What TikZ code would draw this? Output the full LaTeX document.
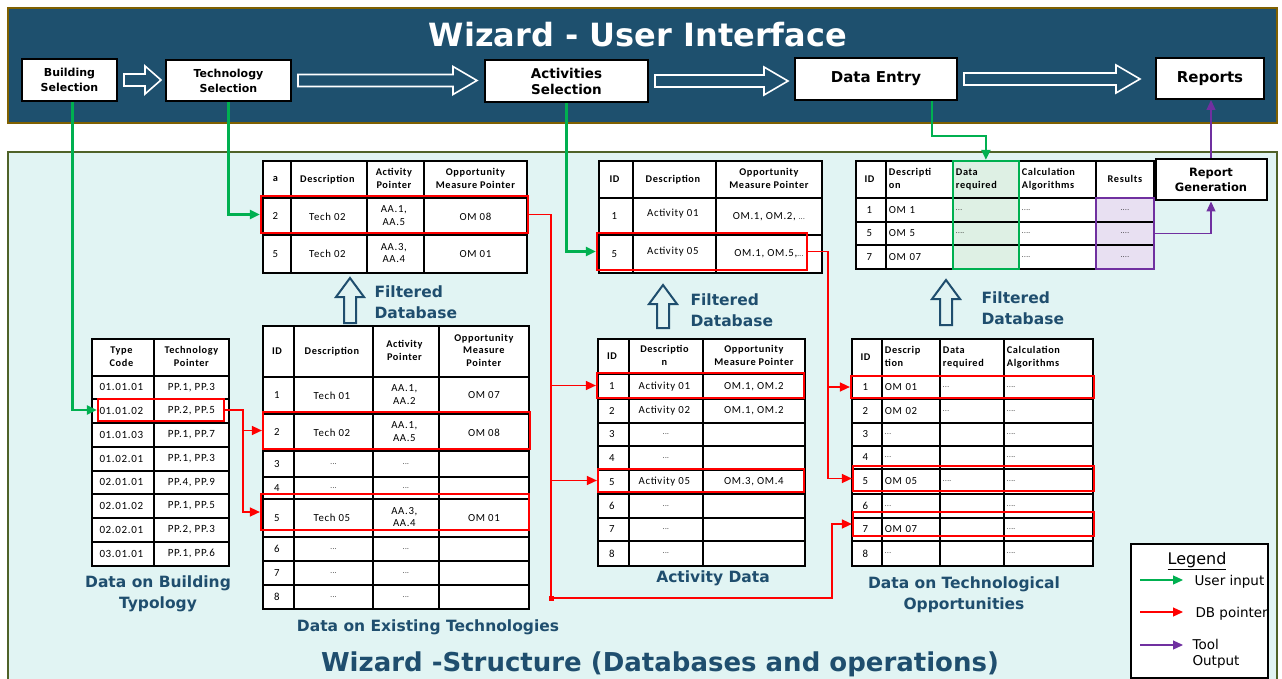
\documentclass[tikz,border=0pt]{standalone}
\usepackage{fontspec}
\setmainfont{Carlito}
\newfontfamily\dv{DejaVu Sans}
\newfontfamily\cl[LetterSpace=6]{Carlito}
\usetikzlibrary{matrix,fit,arrows.meta,calc}
\definecolor{barblue}{RGB}{30,80,110}
\definecolor{bargold}{RGB}{127,96,0}
\definecolor{panel}{RGB}{225,244,243}
\definecolor{panelborder}{RGB}{79,98,40}
\definecolor{lblue}{RGB}{31,78,110}
\definecolor{ugreen}{RGB}{0,176,80}
\definecolor{dbred}{RGB}{255,0,0}
\definecolor{tpurple}{RGB}{112,48,160}
\definecolor{lgreen}{RGB}{222,240,228}
\definecolor{lpurple}{RGB}{232,224,242}
\newcommand{\twoC}[2]{\begin{tabular}{@{}c@{}}#1\\#2\end{tabular}}
\newcommand{\threeC}[3]{\begin{tabular}{@{}c@{}}#1\\#2\\#3\end{tabular}}
\newcommand{\twoL}[2]{\begin{tabular}{@{}l@{}}#1\\#2\end{tabular}}
\newcommand{\sdots}{{\fontsize{7}{8}\selectfont ...}}
\newcommand{\sdotss}{{\fontsize{7}{8}\selectfont ....}}
\newcommand{\hollowarrow}[4]{%
  \draw[harrow] let \p1=(#1.east), \p2=(#2.west) in
   (\x1+6pt,\y1+6pt) -- (\x2-#3pt-#4pt,\y1+6pt) -- (\x2-#3pt-#4pt,\y1+14pt) -- (\x2-#3pt,\y1)
   -- (\x2-#3pt-#4pt,\y1-14pt) -- (\x2-#3pt-#4pt,\y1-6pt) -- (\x1+6pt,\y1-6pt) -- cycle;}
\newcommand{\uparr}[3]{%
  \draw[varrow] (#1-6,#2) -- (#1-6,#3+19) -- (#1-14,#3+19) -- (#1,#3) -- (#1+14,#3+19)
   -- (#1+6,#3+19) -- (#1+6,#2) -- cycle;}
\newcommand{\redrow}[5]{\node[redbox, fit={(#2,#3)(#4,#5)}] (#1) {};}
\tikzset{
  uibox/.style={draw=black, line width=2pt, fill=white, align=center, inner sep=2pt},
  tbl/.style={matrix of nodes, nodes in empty cells, inner sep=0pt, outer sep=0pt,
     column sep=-1.8pt, row sep=-1.8pt, nodes={tcell}},
  tcell/.style={draw=black, line width=1.8pt, fill=white, anchor=center, outer sep=0pt,
     inner sep=1pt, align=center, font=\cl\fontsize{10.8}{12.5}\selectfont},
  hdr/.style={nodes={font=\cl\bfseries\fontsize{10.3}{12.5}\selectfont}},
  cw/.style={nodes={minimum width=#1}},
  lw/.style={nodes={text width=#1, align=left, inner xsep=3pt}},
  rh/.style={nodes={minimum height=#1}},
  redbox/.style={draw=dbred, line width=2.2pt, inner sep=0pt},
  dbp/.style={draw=dbred, line width=1.5pt, -{Triangle[length=10pt,width=9pt]}},
  uin/.style={draw=ugreen, line width=2.2pt, -{Triangle[length=10pt,width=9pt]}},
  tout/.style={draw=tpurple, line width=1.2pt, -{Triangle[length=10pt,width=9pt]}},
  harrow/.style={draw=white, line width=1.6pt},
  varrow/.style={draw=lblue, line width=2pt},
  lbl/.style={text=lblue, font=\dv\bfseries\fontsize{15.5}{21}\selectfont, align=center},
  leglbl/.style={anchor=west, align=left, font=\dv\fontsize{13.5}{16}\selectfont},
}
\begin{document}
\begin{tikzpicture}[x=1pt,y=-1pt]
\useasboundingbox (0,0) rectangle (1282,679);
\clip (0,0) rectangle (1282,679);
\fill[white] (0,0) rectangle (1282,679);
% top bar
\draw[fill=barblue, draw=bargold, line width=2.5pt] (8,8) rectangle (1277,123);
\node[font=\dv\bfseries\fontsize{32}{36}\selectfont, text=white] (ttl) at (638,35) {Wizard - User Interface};
\node[uibox, minimum width=95pt, minimum height=42pt, font=\dv\bfseries\fontsize{11}{15}\selectfont] (bs) at (69.5,80) {Building\\Selection};
\node[uibox, minimum width=125pt, minimum height=41pt, font=\dv\bfseries\fontsize{11}{15}\selectfont] (ts) at (228.5,80.5) {Technology\\Selection};
\node[uibox, minimum width=163pt, minimum height=42pt, font=\dv\bfseries\fontsize{13.5}{16}\selectfont] (as) at (566.5,81) {Activities\\Selection};
\node[uibox, minimum width=162pt, minimum height=42pt, font=\dv\bfseries\fontsize{15}{18}\selectfont] (de) at (876,79) {Data Entry};
\node[uibox, minimum width=108pt, minimum height=41pt, font=\dv\bfseries\fontsize{15}{18}\selectfont] (rep) at (1210,78.5) {Reports};
\hollowarrow{bs}{ts}{4}{16}
\hollowarrow{ts}{as}{7}{24}
\hollowarrow{as}{de}{6}{24}
\hollowarrow{de}{rep}{15}{24}
% bottom panel
\draw[fill=panel, draw=panelborder, line width=2pt] (8,152) rectangle (1277,690);
\node[uibox, minimum width=111pt, minimum height=41pt, font=\dv\bfseries\fontsize{11.5}{15}\selectfont] (rg) at (1211,180) {Report\\Generation};

% Table A : filtered technologies
\matrix[tbl, anchor=north west,
  column 1/.style={cw=28pt}, column 2/.style={cw=76pt}, column 3/.style={cw=57pt}, column 4/.style={cw=103pt},
  row 1/.style={hdr, rh=37pt}, row 2/.style={rh=37pt}, row 3/.style={rh=38pt}] (A) at (262,160) {
  a & Description & \twoC{Activity}{Pointer} & \twoC{Opportunity}{Measure Pointer}\\
  2 & Tech 02 & \twoC{AA.1,}{AA.5} & OM 08\\
  5 & Tech 02 & \twoC{AA.3,}{AA.4} & OM 01\\
};
% Table B : existing technologies
\matrix[tbl, anchor=north west,
  column 1/.style={cw=31pt}, column 2/.style={cw=79pt}, column 3/.style={cw=66pt}, column 4/.style={cw=90pt},
  row 1/.style={hdr, rh=51pt}, row 2/.style={rh=37pt}, row 3/.style={rh=37pt}, row 4/.style={rh=26pt},
  row 5/.style={rh=22pt}, row 6/.style={rh=38pt}, row 7/.style={rh=24pt}, row 8/.style={rh=24pt},
  row 9/.style={rh=24pt}] (B) at (262,325) {
  ID & Description & \twoC{Activity}{Pointer} & \threeC{Opportunity}{Measure}{Pointer}\\
  1 & Tech 01 & \twoC{AA.1,}{AA.2} & OM 07\\
  2 & Tech 02 & \twoC{AA.1,}{AA.5} & OM 08\\
  3 & \sdots & \sdots & \\
  4 & \sdots & \sdots & \\
  5 & Tech 05 & \twoC{AA.3,}{AA.4} & OM 01\\
  6 & \sdots & \sdots & \\
  7 & \sdots & \sdots & \\
  8 & \sdots & \sdots & \\
};
% Table C : building typology
\matrix[tbl, anchor=north west, nodes={font=\cl\fontsize{11}{13}\selectfont},
  column 1/.style={cw=62pt}, column 2/.style={cw=75pt},
  row 1/.style={hdr, rh=37pt}, row 2/.style={rh=23pt}, row 3/.style={rh=24pt}, row 4/.style={rh=24pt},
  row 5/.style={rh=24pt}, row 6/.style={rh=23pt}, row 7/.style={rh=24pt}, row 8/.style={rh=24pt},
  row 9/.style={rh=24pt}] (C) at (91,338) {
  \twoC{Type}{Code} & \twoC{Technology}{Pointer}\\
  01.01.01 & PP.1, PP.3\\
  01.01.02 & PP.2, PP.5\\
  01.01.03 & PP.1, PP.7\\
  01.02.01 & PP.1, PP.3\\
  02.01.01 & PP.4, PP.9\\
  02.01.02 & PP.1, PP.5\\
  02.02.01 & PP.2, PP.3\\
  03.01.01 & PP.1, PP.6\\
};
% Table D : filtered activities
\matrix[tbl, anchor=north west,
  column 1/.style={cw=34pt}, column 2/.style={cw=83pt}, column 3/.style={cw=106pt},
  row 1/.style={hdr, rh=37pt}, row 2/.style={rh=37pt}, row 3/.style={rh=38pt}] (D) at (598,160) {
  ID & Description & \twoC{Opportunity}{Measure Pointer}\\
  1 & \raisebox{7pt}{Activity 01} & \raisebox{-3pt}{OM.1, OM.2, \sdots}\\
  5 & \raisebox{7pt}{Activity 05} & \raisebox{-3pt}{OM.1, OM.5,\sdots}\\
};
% Table E : activity data
\matrix[tbl, anchor=north west,
  column 1/.style={cw=31pt}, column 2/.style={cw=74pt}, column 3/.style={cw=102pt},
  row 1/.style={hdr, rh=35pt}, row 2/.style={rh=25pt}, row 3/.style={rh=24pt}, row 4/.style={rh=23pt},
  row 5/.style={rh=24pt}, row 6/.style={rh=24pt}, row 7/.style={rh=24pt}, row 8/.style={rh=23pt},
  row 9/.style={rh=25pt}] (E) at (597,338) {
  ID & \twoC{Descriptio}{n} & \twoC{Opportunity}{Measure Pointer}\\
  1 & Activity 01 & OM.1, OM.2\\
  2 & Activity 02 & OM.1, OM.2\\
  3 & \sdots & \\
  4 & \sdots & \\
  5 & Activity 05 & OM.3, OM.4\\
  6 & \sdots & \\
  7 & \sdots & \\
  8 & \sdots & \\
};
% Table F : filtered opportunities
\matrix[tbl, anchor=north west,
  column 1/.style={cw=30pt}, column 2/.style={lw=61pt}, column 3/.style={lw=60pt, nodes={fill=lgreen}},
  column 4/.style={lw=71pt}, column 5/.style={cw=58pt, nodes={fill=lpurple}},
  row 1/.style={hdr, rh=37pt}, row 2/.style={rh=24pt}, row 3/.style={rh=23pt}, row 4/.style={rh=24pt}] (F) at (855,160) {
  ID & \twoL{Descripti}{on} & \twoL{Data}{required} & \twoL{Calculation}{Algorithms} & |[fill=white]| Results\\
  1 & OM 1 & \sdots & \sdotss & \sdotss\\
  5 & OM 5 & \sdotss & \sdotss & \sdotss\\
  7 & OM 07 & & \sdotss & \sdotss\\
};
% Table G : technological opportunities
\matrix[tbl, anchor=north west,
  column 1/.style={cw=30pt}, column 2/.style={lw=52pt}, column 3/.style={lw=58pt}, column 4/.style={lw=83pt},
  row 1/.style={hdr, rh=37pt}, row 2/.style={rh=23pt}, row 3/.style={rh=24pt}, row 4/.style={rh=23pt},
  row 5/.style={rh=23pt}, row 6/.style={rh=25pt}, row 7/.style={rh=24pt}, row 8/.style={rh=23pt},
  row 9/.style={rh=25pt}] (G) at (851,338) {
  ID & \twoL{Descrip}{tion} & \twoL{Data}{required} & \twoL{Calculation}{Algorithms}\\
  1 & OM 01 & \sdots & \sdotss\\
  2 & OM 02 & \sdots & \sdotss\\
  3 & \sdots & & \sdotss\\
  4 & \sdots & & \sdotss\\
  5 & OM 05 & \sdotss & \sdotss\\
  6 & \sdots & & \sdotss\\
  7 & OM 07 & & \sdotss\\
  8 & \sdots & & \sdotss\\
};
% column highlights
\node[draw=ugreen, line width=2.2pt, inner sep=0pt, fit=(F-1-3)(F-4-3)] (dreq) {};
\node[draw=tpurple, line width=2.2pt, inner sep=0pt, fit=(F-2-5)(F-4-5)] (res) {};
% red row boxes
\redrow{rA}{261}{196}{528}{233}
\redrow{rB2}{263}{412}{530}{449}
\redrow{rB5}{261}{494}{529}{530}
\redrow{rC}{98}{399}{224}{421}
\redrow{rD}{597}{233}{807}{270}
\redrow{rE1}{597}{373}{804}{398}
\redrow{rE5}{598}{469}{804}{492}
\redrow{rG1}{851}{376}{1094}{398}
\redrow{rG5}{853}{466}{1094}{491}
\redrow{rG7}{853}{512}{1094}{536}
% filtered database arrows and labels
\uparr{350}{323}{278}
\uparr{663}{328}{285}
\uparr{946}{325}{280}
\node[lbl, anchor=west, align=left] (fd1) at (371,302) {Filtered\\Database};
\node[lbl, anchor=west, align=left] (fd2) at (687,310) {Filtered\\Database};
\node[lbl, anchor=west, align=left] (fd3) at (978,308) {Filtered\\Database};
% table captions
\node[lbl] (capC) at (158,594) {Data on Building\\Typology};
\node[lbl] (capB) at (428,627) {Data on Existing Technologies};
\node[lbl] (capE) at (713,578) {Activity Data};
\node[lbl] (capG) at (964,595) {Data on Technological\\Opportunities};
\node[text=lblue, font=\dv\bfseries\fontsize{26}{30}\selectfont] (btl) at (660,664) {Wizard -Structure (Databases and operations)};
% user input connectors
\draw[uin] ([xshift=3pt]bs.south) |- (rC.west);
\draw[uin] (ts.south) |- (rA.west);
\draw[uin] (as.south) |- (rD.west);
\draw[uin] ([xshift=56pt]de.south) -- ++(0,35) -| (dreq.north);
% DB pointer connectors
\coordinate (c1) at (551,598);
\coordinate (c2) at (832,598);
\coordinate (c3) at (828,0);
\coordinate (c4) at (243,0);
\draw[dbp] (rA.east) -| (c1) -- (c2) |- (rG7.west);
\fill[dbred] (548.5,595.5) rectangle (553.5,600.5);
\draw[dbp] (rE1.west -| c1) -- (rE1.west);
\draw[dbp] (rE5.west -| c1) -- (rE5.west);
\draw[dbp] (rD.east) -- (rD.east -| c3) -- (rG5.west -| c3) -- (rG5.west);
\draw[dbp] (rG1.west -| c3) -- (rG1.west);
\draw[dbp] (rC.east) -- (rC.east -| c4) -- (rB5.west -| c4) -- (rB5.west);
\draw[dbp] (rB2.west -| c4) -- (rB2.west);
% tool output connectors
\draw[tout] (res.east) -| (rg.south);
\draw[tout] (rg.north) -- (rg.north |- rep.south);
% legend
\node[draw=black, line width=2pt, fill=white, minimum width=137pt, minimum height=134pt, anchor=north west] (leg) at (1130,543) {};
\node[font=\dv\fontsize{16}{18}\selectfont] (legt) at (1197,561) {\underline{Legend}};
\coordinate (l1a) at (1140,580); \coordinate (l1b) at (1183,580);
\coordinate (l2a) at (1140,612); \coordinate (l2b) at (1183,612);
\coordinate (l3a) at (1140,645); \coordinate (l3b) at (1183,645);
\draw[uin, line width=1.2pt] (l1a) -- (l1b);
\draw[dbp, line width=1.2pt] (l2a) -- (l2b);
\draw[tout] (l3a) -- (l3b);
\node[leglbl] (lt1) at (1191,582) {User input};
\node[leglbl] (lt2) at (1192,614) {DB pointer};
\node[leglbl] (lt3) at (1189,654) {Tool\\Output};
\end{tikzpicture}
\end{document}
